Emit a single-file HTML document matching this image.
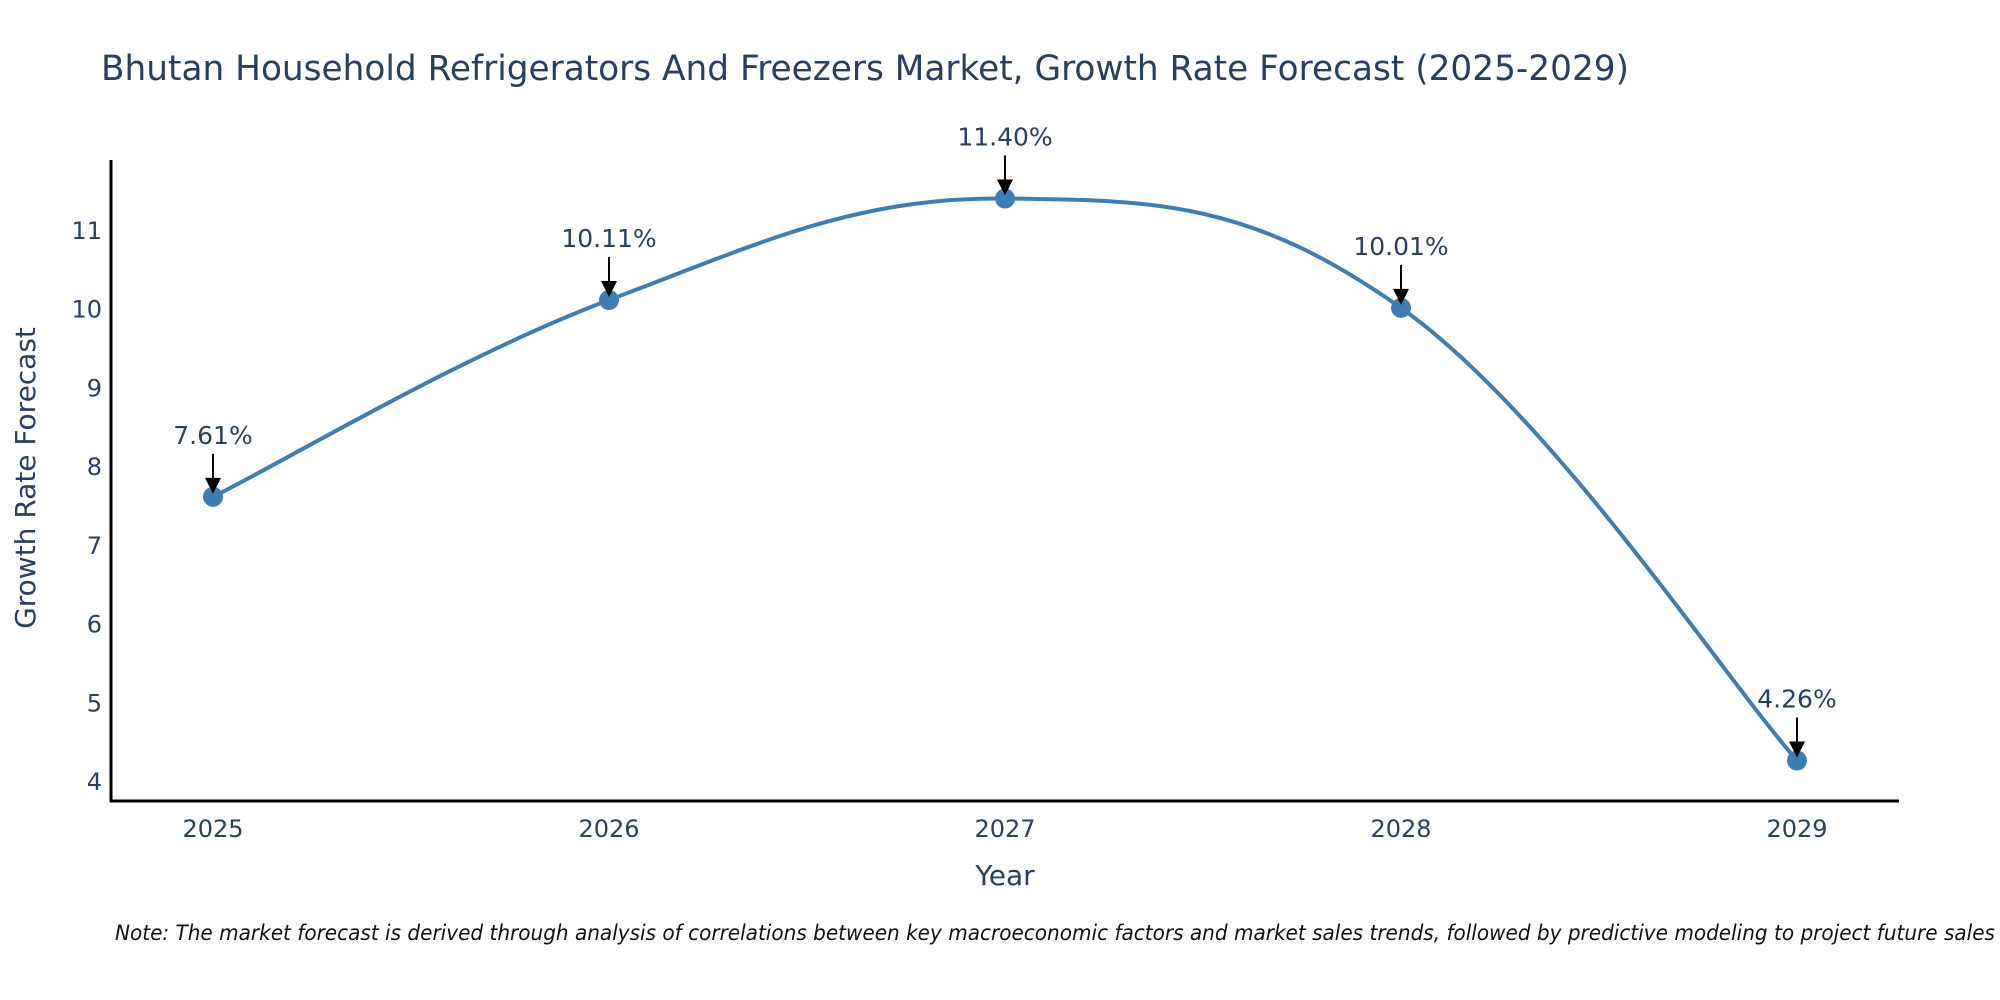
<!DOCTYPE html>
<html><head><meta charset="utf-8"><style>
body{margin:0;background:#fff}
svg{display:block;font-family:"DejaVu Sans","Liberation Sans",sans-serif}
</style></head><body>
<svg id="chart" width="2000" height="1000" viewBox="0 0 2000 1000">
<text x="101" y="80" font-size="35" fill="#2a3f5f" textLength="1528" lengthAdjust="spacingAndGlyphs">Bhutan Household Refrigerators And Freezers Market, Growth Rate Forecast (2025-2029)</text>
<g id="yticks"></g><g id="xticks"></g>
<path id="curve" fill="none" stroke="#3d7fb2" stroke-width="4"/>
<g id="points"></g>
<line x1="111" y1="160" x2="111" y2="802" stroke="#000" stroke-width="3"/>
<line x1="110" y1="801" x2="1899" y2="801" stroke="#000" stroke-width="3"/>
<text transform="translate(35,478) rotate(-90)" text-anchor="middle" font-size="28" fill="#2a3f5f">Growth Rate Forecast</text>
<text x="1005" y="885" text-anchor="middle" font-size="28" fill="#2a3f5f">Year</text>
<text x="115" y="940" font-size="21" font-style="italic" fill="#111" textLength="1880" lengthAdjust="spacingAndGlyphs">Note: The market forecast is derived through analysis of correlations between key macroeconomic factors and market sales trends, followed by predictive modeling to project future sales</text>
</svg>
<script>
const years = [2025, 2026, 2027, 2028, 2029];
const values = [7.61, 10.11, 11.40, 10.01, 4.26];
const labels = ["7.61%", "10.11%", "11.40%", "10.01%", "4.26%"];
const yTicks = [4, 5, 6, 7, 8, 9, 10, 11];

const NS = "http://www.w3.org/2000/svg";
function xs(v){ return 213 + (v - 2025) * (1797 - 213) / 4; }
function ys(v){ return 781 - (v - 4) * (781 - 230) / 7; }
function mk(tag, attrs, parent){
  const e = document.createElementNS(NS, tag);
  for (const k in attrs) e.setAttribute(k, attrs[k]);
  parent.appendChild(e); return e;
}
const yt = document.getElementById('yticks');
yTicks.forEach(t => {
  const e = mk('text', {x: 102, y: ys(t) + 9, 'text-anchor': 'end', 'font-size': 24, fill: '#2a3f5f'}, yt);
  
  
  e.textContent = t;
});
const xt = document.getElementById('xticks');
years.forEach(y => {
  const e = mk('text', {x: xs(y), y: 837, 'text-anchor': 'middle', 'font-size': 24, fill: '#2a3f5f'}, xt);
  
  
  e.textContent = y;
});
const P = years.map((y, i) => [xs(y), ys(values[i])]);
let d = `M${P[0][0]},${P[0][1]}`;
const t = 0.38;
for (let i = 0; i < P.length - 1; i++) {
  const p0 = P[i - 1] || P[i], p1 = P[i], p2 = P[i + 1], p3 = P[i + 2] || P[i + 1];
  const c1 = [p1[0] + (p2[0] - p0[0]) * t / 2, p1[1] + (p2[1] - p0[1]) * t / 2];
  const c2 = [p2[0] - (p3[0] - p1[0]) * t / 2, p2[1] - (p3[1] - p1[1]) * t / 2];
  d += ` C${c1[0]},${c1[1]} ${c2[0]},${c2[1]} ${p2[0]},${p2[1]}`;
}
document.getElementById('curve').setAttribute('d', d);
const pts = document.getElementById('points');
P.forEach((p, i) => {
  const c = mk('circle', {cx: p[0], cy: p[1], r: 10, fill: '#3d7fb2'}, pts);
  
  
  const l = mk('line', {x1: p[0], y1: p[1] - 43, x2: p[0], y2: p[1] - 16, stroke: '#000', 'stroke-width': 2}, pts);
  
  
  const h = mk('polygon', {points: `${p[0]-8},${p[1]-19} ${p[0]+8},${p[1]-19} ${p[0]},${p[1]-3}`, fill: '#000'}, pts);
  
  
  const tx = mk('text', {x: p[0], y: p[1] - 53, 'text-anchor': 'middle', 'font-size': 25, fill: '#2a3f5f'}, pts);
  
  
  tx.textContent = labels[i];
});
</script>
</body></html>
